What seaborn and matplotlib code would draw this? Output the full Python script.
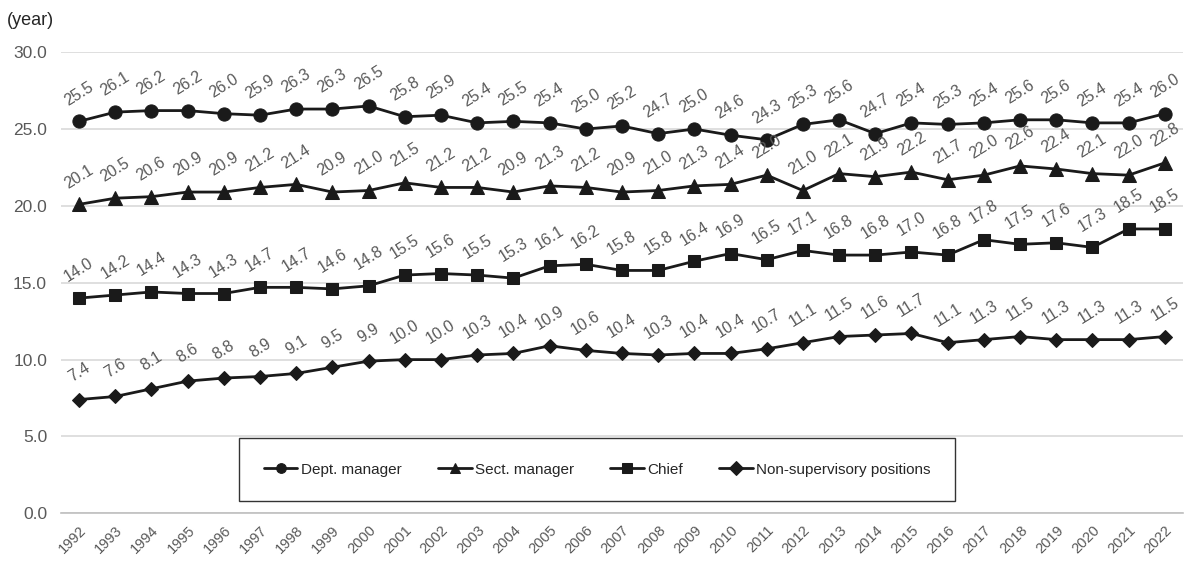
"""
Average years of service by position, 1992-2022
Line chart with rotated data labels, drawn with seaborn.
"""

import matplotlib
matplotlib.use("Agg")
import matplotlib.pyplot as plt
import seaborn as sns

# Data
years = [str(y) for y in range(1992, 2023)]

dept_manager = [25.5, 26.1, 26.2, 26.2, 26.0, 25.9, 26.3, 26.3, 26.5, 25.8,
                25.9, 25.4, 25.5, 25.4, 25.0, 25.2, 24.7, 25.0, 24.6, 24.3,
                25.3, 25.6, 24.7, 25.4, 25.3, 25.4, 25.6, 25.6, 25.4, 25.4, 26.0]
sect_manager = [20.1, 20.5, 20.6, 20.9, 20.9, 21.2, 21.4, 20.9, 21.0, 21.5,
                21.2, 21.2, 20.9, 21.3, 21.2, 20.9, 21.0, 21.3, 21.4, 22.0,
                21.0, 22.1, 21.9, 22.2, 21.7, 22.0, 22.6, 22.4, 22.1, 22.0, 22.8]
chief = [14.0, 14.2, 14.4, 14.3, 14.3, 14.7, 14.7, 14.6, 14.8, 15.5,
         15.6, 15.5, 15.3, 16.1, 16.2, 15.8, 15.8, 16.4, 16.9, 16.5,
         17.1, 16.8, 16.8, 17.0, 16.8, 17.8, 17.5, 17.6, 17.3, 18.5, 18.5]
non_supervisory = [7.4, 7.6, 8.1, 8.6, 8.8, 8.9, 9.1, 9.5, 9.9, 10.0,
                   10.0, 10.3, 10.4, 10.9, 10.6, 10.4, 10.3, 10.4, 10.4, 10.7,
                   11.1, 11.5, 11.6, 11.7, 11.1, 11.3, 11.5, 11.3, 11.3, 11.3, 11.5]

series_names = ["Dept. manager", "Sect. manager", "Chief", "Non-supervisory positions"]
series_values = [dept_manager, sect_manager, chief, non_supervisory]
y_ticks = [0, 5, 10, 15, 20, 25, 30]

# Style
sns.set_style("white")
plt.rcParams['font.family'] = ['Liberation Sans', 'DejaVu Sans']

LINE = '#1a1a1a'
LABEL = '#595959'
GRID = '#d9d9d9'

markers = {"Dept. manager": ('o', 9.5),
           "Sect. manager": ('^', 9.5),
           "Chief": ('s', 8.5),
           "Non-supervisory positions": ('D', 7.0)}

fig = plt.figure(figsize=(11.86, 5.61), dpi=100)
ax = fig.add_axes([0.0514, 0.085, 0.946, 0.822])

x = list(range(len(years)))
for name, vals in zip(series_names, series_values):
    mk, ms = markers[name]
    sns.lineplot(x=x, y=vals, ax=ax, color=LINE, linewidth=2.0,
                 marker=mk, markersize=ms, markeredgecolor=LINE,
                 markerfacecolor=LINE, label=name)
    # data labels
    for xi, v in zip(x, vals):
        ax.annotate(f"{v:.1f}", (xi, v), xytext=(0, 20), textcoords='offset points',
                    ha='center', va='center', rotation=32, rotation_mode='anchor',
                    fontsize=11.5, color=LABEL)

# Axes
ax.set_xlim(-0.5, len(years) - 0.5)
ax.set_ylim(0, 30)
ax.set_yticks(y_ticks)
ax.set_yticklabels([f"{t:.1f}" for t in y_ticks], fontsize=12.5, color=LABEL)
ax.set_xticks(x)
ax.set_xticklabels(years, rotation=45, ha='right', rotation_mode='anchor',
                   fontsize=10.5, color=LABEL)
ax.set_xticks([i - 0.5 for i in range(len(years) + 1)], minor=True)
ax.tick_params(axis='x', which='major', length=0, pad=7)
ax.tick_params(axis='x', which='minor', length=4, color='#bfbfbf', width=1)
ax.tick_params(axis='y', length=0, pad=10)
ax.grid(axis='y', color=GRID, linewidth=1.2)
ax.set_axisbelow(True)
ax.set_xlabel('')
ax.set_ylabel('')
for side in ['left', 'right', 'top']:
    ax.spines[side].set_visible(False)
ax.spines['bottom'].set_color('#bfbfbf')
ax.spines['bottom'].set_linewidth(1.2)

# Unit label
fig.text(0.006, 0.963, "(year)", fontsize=13, color='#262626', ha='left', va='center')

# Legend
leg = ax.legend(loc='center', bbox_to_anchor=(0.478, 0.095), ncol=4, frameon=True,
                fancybox=False, edgecolor='black', borderpad=1.6,
                handlelength=2.2, handletextpad=0.2, columnspacing=2.4,
                prop={'family': ['Liberation Sans Narrow', 'Liberation Sans'], 'size': 11})
leg.get_frame().set_linewidth(1.0)
for h in leg.legend_handles:
    h.set_markersize(7)
for t in leg.get_texts():
    t.set_color('#262626')

fig.savefig('out.png', dpi=100)
